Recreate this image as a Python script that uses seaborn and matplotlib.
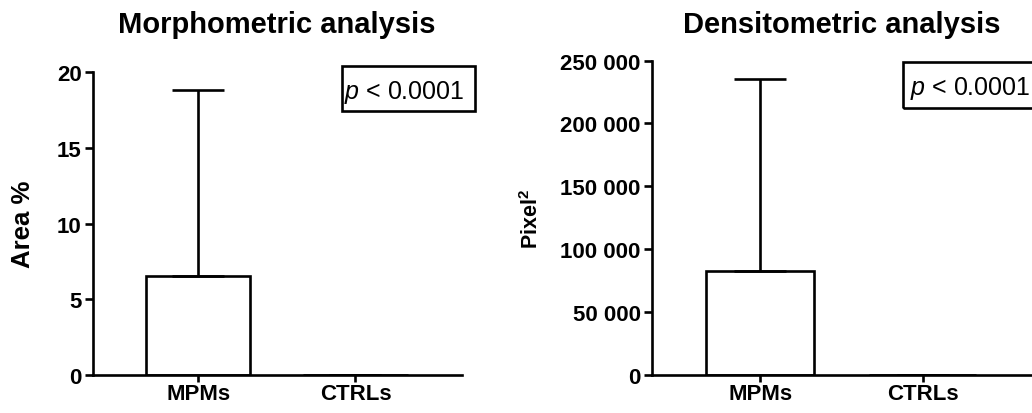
import matplotlib
matplotlib.use("Agg")
import matplotlib.pyplot as plt
import matplotlib.ticker as mticker
from matplotlib.patches import Rectangle
import seaborn as sns

# Data (mean with upper SD only)
groups = ["MPMs", "CTRLs"]
area_mean = [6.55, 0.0]
area_sd = [12.3, 0.0]
pixel_mean = [82700, 0]
pixel_sd = [152800, 0]
area_ticks = [0, 5, 10, 15, 20]
pixel_ticks = [0, 50000, 100000, 150000, 200000, 250000]
p_text = r"$\mathit{p}$ < 0.0001"

sns.set_style("ticks")
plt.rcParams["font.family"] = ["Liberation Sans", "DejaVu Sans"]
plt.rcParams["mathtext.fontset"] = "custom"
plt.rcParams["mathtext.rm"] = "Liberation Sans"
plt.rcParams["mathtext.it"] = "Liberation Sans:italic"
plt.rcParams["mathtext.bf"] = "Liberation Sans:bold"
plt.rcParams["text.color"] = "black"
plt.rcParams["axes.labelcolor"] = "black"

LW = 1.9

fig = plt.figure(figsize=(10.32, 4.14), dpi=100)
ax1 = fig.add_axes([0.0898, 0.0918, 0.3576, 0.7311])
ax2 = fig.add_axes([0.6315, 0.0918, 0.3685, 0.7594])


def draw_panel(ax, means, sds, ticks, title, ylabel, title_pad, fmt=None):
    sns.barplot(x=groups, y=means, ax=ax, color="white", edgecolor="black",
                linewidth=LW, width=0.665, errorbar=None, saturation=1)
    ax.errorbar(x=list(range(len(groups))), y=means, yerr=[[0] * len(sds), sds],
                fmt="none", ecolor="black", elinewidth=LW, capsize=19, capthick=LW,
                zorder=3)
    ax.set_xlim(-0.67, 1.675)
    ax.set_ylim(ticks[0], ticks[-1])
    ax.set_yticks(ticks)
    if fmt is not None:
        ax.yaxis.set_major_formatter(mticker.FuncFormatter(fmt))
    sns.despine(ax=ax)
    for s in ["left", "bottom"]:
        ax.spines[s].set_linewidth(LW)
        ax.spines[s].set_color("black")
    ax.tick_params(axis="y", length=6, width=LW, pad=2, labelsize=16, colors="black")
    ax.tick_params(axis="x", length=5, width=LW, pad=1, labelsize=16, colors="black")
    for lab in ax.get_xticklabels() + ax.get_yticklabels():
        lab.set_fontweight("bold")
    ax.set_title(title, fontsize=21, fontweight="bold", pad=title_pad, color="black")
    ax.set_ylabel(ylabel, fontweight="bold", color="black")


draw_panel(ax1, area_mean, area_sd, area_ticks, "Morphometric analysis", "Area %", 28.8)
ax1.yaxis.label.set_fontsize(18.5)
ax1.yaxis.set_label_coords(-0.155, 0.5)

draw_panel(ax2, pixel_mean, pixel_sd, pixel_ticks, "Densitometric analysis",
           r"Pixel$^{\mathbf{2}}$", 20.4,
           fmt=lambda v, pos: f"{int(v):,}".replace(",", " "))
ax2.yaxis.label.set_fontsize(15.5)
ax2.yaxis.set_label_coords(-0.287, 0.5)

# p-value boxes
ax1.add_patch(Rectangle((0.675, 0.8736), 0.361, 0.148, transform=ax1.transAxes,
                        fill=False, edgecolor="black", linewidth=LW, clip_on=False))
ax1.text(0.682, 0.9144, p_text, transform=ax1.transAxes, fontsize=18,
         va="baseline", ha="left", color="black")
ax2.add_patch(Rectangle((0.6616, 0.849), 0.353, 0.1459, transform=ax2.transAxes,
                        fill=False, edgecolor="black", linewidth=LW, clip_on=False))
ax2.text(0.679, 0.8944, p_text, transform=ax2.transAxes, fontsize=18,
         va="baseline", ha="left", color="black")

fig.savefig("out.png", dpi=100)
